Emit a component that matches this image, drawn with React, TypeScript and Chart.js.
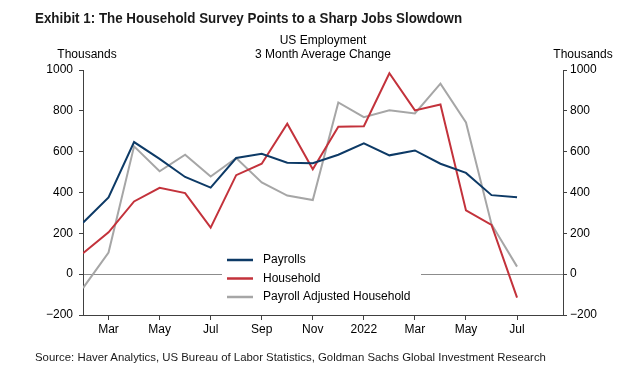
import React, { useEffect, useRef } from "react";
import { Chart, registerables } from "chart.js";

Chart.register(...registerables);

const months = [
  "Feb 2021", "Mar 2021", "Apr 2021", "May 2021", "Jun 2021", "Jul 2021",
  "Aug 2021", "Sep 2021", "Oct 2021", "Nov 2021", "Dec 2021", "Jan 2022",
  "Feb 2022", "Mar 2022", "Apr 2022", "May 2022", "Jun 2022", "Jul 2022",
];
const payrolls = [252, 376, 647, 565, 476, 424, 569, 590, 546, 543, 585, 641, 582, 606, 541, 496, 387, 377];
const household = [102, 205, 356, 423, 397, 228, 485, 541, 737, 514, 722, 725, 984, 802, 831, 312, 241, -115];
const adjusted = [-68, 106, 626, 504, 585, 478, 569, 449, 385, 363, 841, 769, 803, 787, 933, 743, 245, 37];
const xTickLabels = ["Mar", "May", "Jul", "Sep", "Nov", "2022", "Mar", "May", "Jul"];
const seriesNames = ["Payrolls", "Household", "Payroll Adjusted Household"];
const seriesColors = ["#0d3a66", "#c3323b", "#a6a6a6"];

const FONT = "'Liberation Sans', Arial, sans-serif";

const fmtY = (v: any) => (v < 0 ? "\u2212" + Math.abs(v) : String(v));

const legendPlugin = {
  id: "insideLegend",
  afterDraw(chart: any) {
    const { ctx, chartArea } = chart;
    const x0 = chartArea.left + 139;
    const y0 = chartArea.top + 179;
    ctx.save();
    ctx.fillStyle = "#ffffff";
    ctx.fillRect(x0, y0, 199, 58);
    ctx.font = `12px ${FONT}`;
    ctx.textBaseline = "middle";
    seriesNames.forEach((name, i) => {
      const y = y0 + 11 + i * 18.5;
      ctx.strokeStyle = seriesColors[i];
      ctx.lineWidth = 2.5;
      ctx.beginPath();
      ctx.moveTo(x0 + 5, y);
      ctx.lineTo(x0 + 31, y);
      ctx.stroke();
      ctx.fillStyle = "#000";
      ctx.fillText(name, x0 + 41, y);
    });
    ctx.restore();
  },
};

export default function App() {
  const ref = useRef<HTMLCanvasElement | null>(null);
  useEffect(() => {
    if (!ref.current) return;
    const mk = (data: number[]) => data.map((v, i) => ({ x: i, y: v }));
    const axisColor = "#404040";
    const chart = new Chart(ref.current, {
      type: "line",
      data: {
        labels: months,
        datasets: [
          { label: seriesNames[0], data: mk(payrolls), borderColor: seriesColors[0], borderWidth: 2, pointRadius: 0, tension: 0, yAxisID: "y" },
          { label: seriesNames[1], data: mk(household), borderColor: seriesColors[1], borderWidth: 2, pointRadius: 0, tension: 0, yAxisID: "y" },
          { label: seriesNames[2], data: mk(adjusted), borderColor: seriesColors[2], borderWidth: 2, pointRadius: 0, tension: 0, yAxisID: "y" },
        ],
      },
      options: {
        responsive: false,
        animation: false,
        layout: { padding: { top: 70, left: 0, right: 0, bottom: 0 } },
        plugins: { legend: { display: false }, tooltip: { enabled: false }, title: { display: false } },
        scales: {
          x: {
            type: "linear",
            min: 0,
            max: 18.8,
            afterBuildTicks: (scale: any) => {
              scale.ticks = xTickLabels.map((_, i) => ({ value: 1 + 2 * i }));
            },
            afterFit: (scale: any) => { scale.height = 64; },
            ticks: {
              autoSkip: false,
              maxRotation: 0,
              padding: 2,
              color: "#000",
              font: { family: FONT, size: 12 },
              callback: (value: any) => xTickLabels[(value - 1) / 2] ?? "",
            },
            grid: { drawOnChartArea: false, drawTicks: true, tickLength: 5, tickColor: axisColor },
            border: { display: true, color: axisColor, width: 1 },
          },
          y: {
            position: "left",
            min: -200,
            max: 1000,
            afterFit: (scale: any) => { scale.width = 83; },
            ticks: { stepSize: 200, padding: 6, color: "#000", font: { family: FONT, size: 12 }, callback: fmtY },
            grid: {
              drawTicks: true,
              tickLength: 4,
              tickColor: axisColor,
              color: (c: any) => (c.tick && c.tick.value === 0 ? "#8c8c8c" : "rgba(0,0,0,0)"),
            },
            border: { display: true, color: axisColor, width: 1 },
          },
          y2: {
            position: "right",
            min: -200,
            max: 1000,
            afterFit: (scale: any) => { scale.width = 73; },
            ticks: { stepSize: 200, padding: 3, color: "#000", font: { family: FONT, size: 12 }, callback: fmtY },
            grid: { drawOnChartArea: false, drawTicks: true, tickLength: 4, tickColor: axisColor },
            border: { display: true, color: axisColor, width: 1 },
          },
        },
      },
      plugins: [legendPlugin],
    } as any);
    return () => chart.destroy();
  }, []);

  const txt: React.CSSProperties = { position: "absolute", fontFamily: FONT, color: "#000", whiteSpace: "nowrap", lineHeight: "14px" };
  return (
    <div style={{ position: "absolute", left: 0, top: 0, width: 636, height: 379, background: "#fff", overflow: "hidden" }}>
      <canvas ref={ref} width={636} height={379} style={{ position: "absolute", left: 0, top: 0 }} />
      <div style={{ ...txt, left: 35, top: 10, fontSize: 14, lineHeight: "16px", fontWeight: "bold", color: "#1a1a1a", transform: "scaleX(0.955)", transformOrigin: "left center" }}>
        Exhibit 1: The Household Survey Points to a Sharp Jobs Slowdown
      </div>
      <div style={{ ...txt, left: 223, width: 200, top: 33, fontSize: 12, textAlign: "center" }}>US Employment</div>
      <div style={{ ...txt, left: 223, width: 200, top: 47, fontSize: 12, textAlign: "center" }}>3 Month Average Change</div>
      <div style={{ ...txt, left: 37, width: 100, top: 47, fontSize: 12, textAlign: "center" }}>Thousands</div>
      <div style={{ ...txt, left: 533, width: 100, top: 47, fontSize: 12, textAlign: "center" }}>Thousands</div>
      <div style={{ ...txt, left: 35, top: 350, fontSize: 11.4, color: "#1a1a1a" }}>
        Source: Haver Analytics, US Bureau of Labor Statistics, Goldman Sachs Global Investment Research
      </div>
    </div>
  );
}
